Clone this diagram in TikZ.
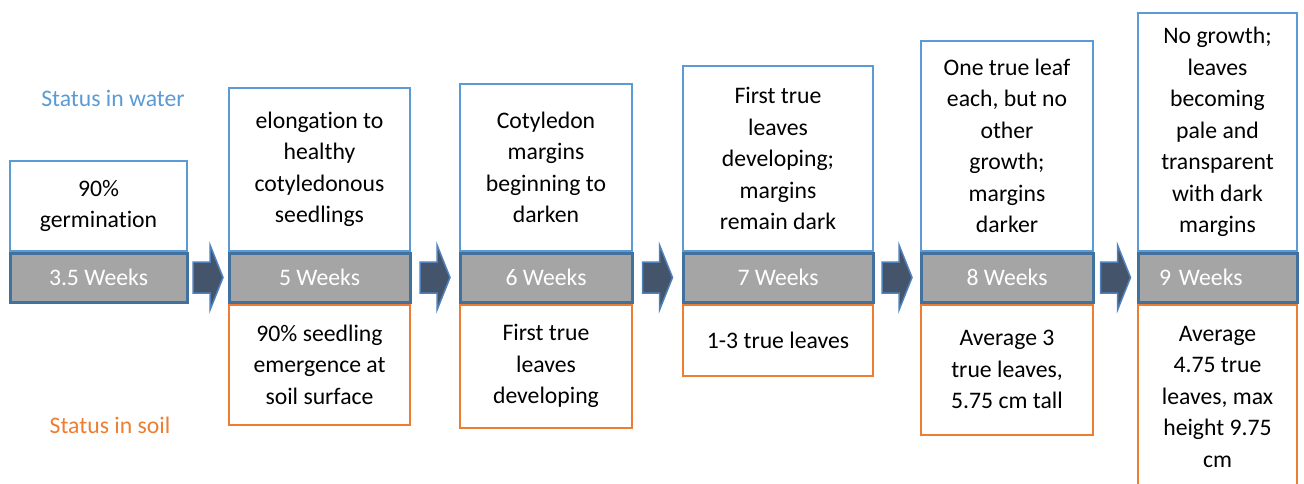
\documentclass[tikz,border=0pt]{standalone}
\usepackage{fontspec}
\setmainfont{Carlito}[RawFeature={-liga;-clig;-calt;-rlig;-dlig}]
\usepackage{tikz}
\usetikzlibrary{positioning, calc}

\definecolor{waterblue}{HTML}{5B9BD5}
\definecolor{soilorange}{HTML}{ED7D31}
\definecolor{bandgrey}{HTML}{A5A5A5}
\definecolor{bandblue}{HTML}{41719C}
\definecolor{arrowfill}{HTML}{44546A}
\definecolor{arrowline}{HTML}{4F81BD}

\begin{document}
\begin{tikzpicture}[x=1pt, y=1pt,
      every node/.style={font=\fontsize{23.7}{31.5}\selectfont, inner sep=0pt},
      weeks/.style={rectangle, draw=bandblue, line width=3pt, fill=bandgrey, text=white, minimum height=49pt},
      water/.style={rectangle, draw=waterblue, line width=2pt, fill=white, align=center},
      soil/.style={rectangle, draw=soilorange, line width=2.5pt, fill=white, align=center},
      blockarrow/.style={draw=arrowline, line width=1.5pt, fill=arrowfill, line join=miter}]

      \useasboundingbox (0,0) rectangle (1304,-484);
      \clip (0,0) rectangle (1304,-484);

      % Time bands
      \node[weeks, minimum width=177pt] (wk1) at (98.5,-277.5) {3.5 Weeks};
      \node[weeks, minimum width=181pt] (wk2) at (319.5,-277.5) {5 Weeks};
      \node[weeks, minimum width=172pt] (wk3) at (546,-277.5) {6 Weeks};
      \node[weeks, minimum width=190pt] (wk4) at (778,-277.5) {7 Weeks};
      \node[weeks, minimum width=172pt] (wk5) at (1007,-277.5) {8 Weeks};
      \node[weeks, minimum width=159pt, text width=117pt, inner xsep=21pt, align=left] (wk6) at (1217.5,-277.5) {9 Weeks};

      % Status in water
      \node[water, minimum width=177pt, minimum height=89pt, above=0pt of wk1] (water1) {90\%\\germination};
      \node[water, minimum width=181pt, minimum height=162pt, above=0pt of wk2] (water2) {elongation to\\healthy\\cotyledonous\\seedlings};
      \node[water, minimum width=172pt, minimum height=166pt, above=0pt of wk3] (water3) {Cotyledon\\margins\\beginning to\\darken};
      \node[water, minimum width=190pt, minimum height=184pt, above=0pt of wk4] (water4) {First true\\leaves\\developing;\\margins\\remain dark};
      \node[water, minimum width=172pt, minimum height=209pt, above=0pt of wk5] (water5) {One true leaf\\each, but no\\other\\growth;\\margins\\darker};
      \node[water, minimum width=159pt, minimum height=237pt, above=0pt of wk6] (water6) {No growth;\\leaves\\becoming\\pale and\\transparent\\with dark\\margins};

      % Status in soil
      \node[soil, minimum width=181pt, minimum height=120pt, below=0pt of wk2] (soil2) {90\% seedling\\emergence at\\soil surface};
      \node[soil, minimum width=172pt, minimum height=123pt, below=0pt of wk3] (soil3) {First true\\leaves\\developing};
      \node[soil, minimum width=190pt, minimum height=71pt, below=0pt of wk4] (soil4) {1-3 true leaves};
      \node[soil, minimum width=172pt, minimum height=130pt, below=0pt of wk5] (soil5) {Average 3\\true leaves,\\5.75 cm tall};
      \node[soil, minimum width=159pt, minimum height=184pt, below=0pt of wk6] (soil6) {Average\\4.75 true\\leaves, max\\height 9.75\\cm};

      \node[text=waterblue] (waterlabel) at (113,-98) {Status in water};
      \node[text=soilorange] (soillabel) at (110,-425) {Status in soil};

      % Block arrows between the bands
      \foreach \a/\b in {wk1/wk2, wk2/wk3, wk3/wk4, wk4/wk5, wk5/wk6} {
        \coordinate (mid) at ($(\a.east)!0.5!(\b.west)$);
        \draw[blockarrow] ($(mid)+(-15,15.5)$) -- ++(17,0) -- ++(0,17) -- ++(13,-32.5)
          -- ++(-13,-32.5) -- ++(0,17) -- ++(-17,0) -- cycle;
      }
    \end{tikzpicture}
\end{document}
